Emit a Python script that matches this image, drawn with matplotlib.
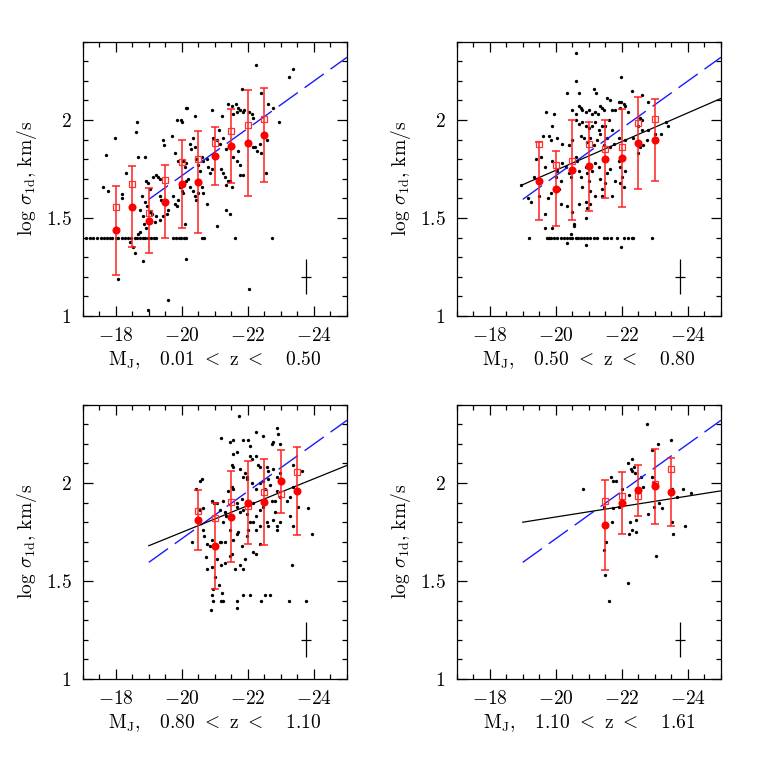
import matplotlib
matplotlib.use('Agg')
import matplotlib.pyplot as plt
from matplotlib.ticker import MultipleLocator, FuncFormatter

plt.rcParams['font.family'] = 'serif'
plt.rcParams['font.serif'] = ['cmr10']
plt.rcParams['mathtext.fontset'] = 'cm'
plt.rcParams['axes.formatter.use_mathtext'] = True

# redshift bins
z_lo = ['0.01', '0.50', '0.80', '1.10']
z_hi = ['0.50', '0.80', '1.10', '1.61']

# lower-limit row of galaxies
floor_y = 1.40

# ---- panel 1 : 0.01 < z < 0.50
floor_x1 = [-17.11, -17.21, -17.31, -17.43, -17.54, -17.64, -17.74, -17.82, -17.90,
            -18.00, -18.08, -18.18, -18.28, -18.38, -18.46, -18.57, -18.65, -18.73,
            -18.81, -18.89, -18.97, -19.07, -19.15, -19.23, -19.74, -19.82, -19.90,
            -19.98, -20.06, -20.14, -20.60, -20.67, -21.61, -22.74]
dot_x1 = [-17.60, -17.69, -17.98, -17.78, -18.06, -18.30, -18.18, -18.18, -18.65, -18.61,
          -18.67, -18.89, -18.44, -18.59, -18.51, -18.83, -18.98, -19.59, -20.14, -22.03,
          -21.07, -21.35, -21.45, -22.54, -21.76, -21.84, -20.12, -20.17, -19.96, -20.02,
          -19.84, -20.41, -20.91, -21.21, -21.39, -21.52, -21.64, -21.71, -21.76, -21.84,
          -21.88, -21.68, -21.56, -21.81, -22.26, -22.41, -22.62, -22.77, -22.94, -22.41,
          -22.28, -22.16, -22.21, -22.03, -22.11, -22.16, -22.36, -22.57, -23.25, -23.35,
          -19.43, -19.69, -19.45, -19.79, -19.89, -20.04, -20.09, -20.14, -20.24, -20.29,
          -20.34, -20.39, -20.44, -20.49, -20.55, -20.60, -20.65, -20.75, -20.80, -20.85,
          -20.90, -20.95, -21.05, -21.15, -21.13, -21.25, -21.35, -21.43, -21.56, -21.66,
          -21.71, -21.76, -21.20, -21.25, -21.30, -21.35, -21.40, -21.45, -21.51, -18.93,
          -18.98, -19.03, -18.78, -18.88, -18.95, -18.73, -18.81, -18.85, -18.91, -18.73,
          -18.68, -19.03, -19.11, -19.18, -19.23, -19.13, -19.23, -19.28, -19.33, -19.33,
          -19.38, -19.43, -19.48, -19.33, -19.43, -19.54, -19.59, -19.74, -19.79, -19.84,
          -19.89, -19.94, -19.99, -20.04, -20.09, -20.14, -20.19, -20.24, -20.34, -20.39,
          -20.44, -20.49, -20.55, -20.60, -20.65, -20.75]
dot_y1 = [1.66, 1.82, 1.91, 1.64, 1.19, 1.73, 1.62, 1.60, 1.99, 1.94,
          1.81, 1.81, 1.38, 1.32, 1.35, 1.28, 1.03, 1.08, 1.29, 1.14,
          1.46, 1.54, 1.52, 1.73, 1.72, 1.72, 2.06, 2.06, 2.00, 1.99,
          2.00, 2.02, 2.05, 2.02, 2.08, 2.07, 2.08, 2.06, 2.05, 2.04,
          2.05, 2.04, 2.03, 2.16, 2.28, 2.14, 2.08, 2.06, 1.99, 1.83,
          1.84, 1.86, 1.86, 2.04, 2.03, 2.01, 1.88, 1.90, 2.22, 2.26,
          1.90, 1.92, 1.87, 1.83, 1.79, 1.79, 1.76, 1.78, 1.88, 1.85,
          1.91, 1.86, 1.80, 1.77, 1.74, 1.81, 1.79, 1.80, 1.76, 1.73,
          1.75, 1.91, 1.90, 1.88, 1.95, 1.91, 1.85, 1.86, 1.81, 1.79,
          1.84, 1.77, 1.75, 1.73, 1.71, 1.67, 1.69, 1.69, 1.66, 1.69,
          1.68, 1.65, 1.61, 1.58, 1.56, 1.54, 1.51, 1.47, 1.45, 1.43,
          1.42, 1.53, 1.52, 1.48, 1.51, 1.71, 1.72, 1.71, 1.70, 1.61,
          1.59, 1.58, 1.57, 1.49, 1.51, 1.52, 1.54, 1.61, 1.57, 1.56,
          1.59, 1.66, 1.64, 1.63, 1.47, 1.69, 1.70, 1.66, 1.64, 1.61,
          1.59, 1.63, 1.68, 1.66, 1.63, 1.57]
bin_x1 = [-18.0, -18.5, -19.0, -19.5, -20.0, -20.5, -21.0, -21.5, -22.0, -22.5]
circ_y1 = [1.437, 1.558, 1.486, 1.583, 1.673, 1.684, 1.816, 1.866, 1.884, 1.925]
circ_e1 = [0.227, 0.205, 0.165, 0.185, 0.225, 0.260, 0.150, 0.190, 0.270, 0.240]
sq_y1 = [1.558, 1.673, 1.527, 1.694, 1.787, 1.801, 1.884, 1.942, 1.976, 2.003]

# ---- panel 2 : 0.50 < z < 0.80
floor_x2 = [-19.18, -19.72, -19.80, -19.86, -19.95, -20.05, -20.15, -20.25, -20.35,
            -20.42, -20.50, -20.60, -20.68, -20.76, -20.85, -20.95, -21.05, -21.15,
            -21.25, -21.45, -21.55, -21.68, -21.85, -22.05, -22.18, -22.30, -22.35, -22.90]
dot_x2 = [-20.34, -20.90, -21.96, -20.45, -20.54, -19.90, -19.66,
          -20.62, -20.62, -21.96, -22.30, -20.35, -20.70, -21.16, -21.22,
          -21.55, -21.65, -21.90, -21.98, -22.05, -22.62, -22.80,
          -19.70, -19.95, -20.50, -20.60, -20.70, -20.75, -20.80, -20.90, -21.00, -21.10,
          -21.20, -21.28, -21.35, -21.40, -21.45, -21.70, -21.80, -21.95, -22.10, -22.20,
          -19.60, -19.80, -19.90, -19.85, -20.05, -20.20, -20.40, -20.50,
          -20.60, -20.70, -20.80, -20.90, -21.00, -21.10, -21.20, -21.30, -21.40, -21.50,
          -21.60, -21.70,
          -20.75, -20.85, -20.95, -21.05, -21.15, -21.25, -21.35, -21.45, -21.55, -21.65,
          -21.75, -21.90,
          -22.10, -22.35, -22.50, -22.60, -22.65, -22.75, -22.80, -23.00, -23.18, -23.35,
          -23.40, -22.55, -22.62,
          -19.40, -19.55, -19.68, -19.90, -20.00, -20.05, -20.15, -20.20, -20.30, -20.40,
          -20.45,
          -20.60, -20.65, -20.70, -20.75, -20.80, -20.90, -20.95, -21.00, -21.05, -21.10,
          -21.20, -21.30, -21.35, -21.40, -21.50, -21.55, -21.65,
          -21.90, -21.95, -22.00, -22.05, -22.10, -21.95,
          -19.25, -19.35, -19.50, -19.68, -19.75, -19.85, -20.10, -20.15, -20.35, -20.48,
          -20.55, -20.70, -20.90, -20.95, -21.05, -20.90, -21.20, -21.40, -21.70, -21.80,
          -22.50, -22.55, -18.95, -19.15]
dot_y2 = [1.37, 1.36, 1.35, 1.42, 1.46, 1.45, 1.45,
          2.34, 2.20, 2.22, 2.15, 2.14, 2.14, 2.16, 2.14,
          2.11, 2.10, 2.09, 2.09, 2.08, 2.13, 2.09,
          2.04, 2.03, 2.05, 2.03, 2.07, 2.06, 2.05, 2.04, 2.05, 2.03,
          2.04, 2.03, 2.07, 2.06, 2.05, 2.05, 2.05, 2.06, 2.07, 2.04,
          1.92, 1.92, 1.97, 1.90, 1.91, 1.88, 1.87, 1.90,
          2.00, 1.98, 1.99, 1.97, 1.96, 1.97, 1.99, 1.95, 1.97, 1.97,
          2.00, 1.95,
          1.92, 1.91, 1.89, 1.91, 1.87, 1.90, 1.93, 1.87, 1.91, 1.86,
          1.88, 1.91,
          1.90, 1.91, 1.97, 1.95, 1.87, 1.90, 1.95, 1.93, 1.93, 1.99,
          1.97, 2.01, 2.00,
          1.80, 1.81, 1.76, 1.79, 1.71, 1.74, 1.69, 1.78, 1.76, 1.73,
          1.71,
          1.81, 1.79, 1.74, 1.71, 1.66, 1.76, 1.73, 1.69, 1.64, 1.74,
          1.78, 1.76, 1.70, 1.65, 1.68, 1.73, 1.75,
          1.79, 1.76, 1.71, 1.66, 1.74, 1.68,
          1.58, 1.71, 1.61, 1.52, 1.60, 1.63, 1.65, 1.57, 1.56, 1.53,
          1.47, 1.57, 1.58, 1.55, 1.57, 1.50, 1.61, 1.61, 1.61, 1.69,
          1.83, 1.86, 1.67, 1.60]
bin_x2 = [-19.5, -20.0, -20.5, -21.0, -21.5, -22.0, -22.5, -23.0]
circ_y2 = [1.689, 1.650, 1.745, 1.764, 1.801, 1.806, 1.881, 1.898]
circ_e2 = [0.199, 0.190, 0.254, 0.226, 0.200, 0.250, 0.234, 0.210]
sq_y2 = [1.878, 1.770, 1.791, 1.878, 1.852, 1.864, 1.986, 2.007]

# ---- panel 3 : 0.80 < z < 1.10
floor_x3 = [-20.95, -21.19, -21.25, -21.66, -22.41, -23.25, -23.76]
dot_x3 = [-20.90, -21.84, -22.06, -22.52, -22.67, -20.87, -21.66, -20.95, -21.00, -21.13,
          -21.23,
          -21.74, -22.26, -22.46, -22.89, -22.92, -21.20, -21.45, -21.56, -21.84, -22.01,
          -22.06, -22.77, -22.72, -22.97,
          -21.54, -21.66, -22.06, -22.11, -22.26, -22.31, -22.36, -22.57, -22.62, -22.77,
          -22.87, -22.97, -23.37, -23.63, -21.51, -21.56, -21.91, -21.96, -21.86, -21.76,
          -20.42, -20.55, -20.60, -20.90, -20.97, -21.25, -21.40, -21.51, -21.56, -21.66,
          -21.81, -21.96, -22.11, -22.26, -22.36, -22.46, -22.52, -22.62, -22.67, -22.72,
          -22.82, -22.87, -22.97, -23.17, -23.27, -23.37,
          -20.55, -20.65, -21.05, -21.15, -21.25, -21.30, -21.35, -21.66, -21.76, -21.86,
          -21.96, -22.06, -22.16, -22.26, -22.36, -22.46, -22.57, -22.77, -22.82, -22.87,
          -22.97, -23.27, -23.53, -23.83, -23.93,
          -20.32, -20.65, -20.68, -20.75, -20.85, -20.90, -21.15, -21.20, -21.30, -21.45,
          -21.56, -21.66, -21.71, -21.81, -21.96, -22.01, -22.16, -22.26, -22.36, -22.62,
          -22.87, -23.37,
          -20.73, -20.75, -20.90, -21.05, -21.20, -21.30, -21.45, -21.51, -21.61, -21.76,
          -21.84, -21.91, -22.16, -22.26, -22.36, -23.32]
dot_y3 = [1.43, 1.43, 1.43, 1.43, 1.43, 1.35, 1.36, 1.46, 1.52, 1.48,
          1.44,
          2.34, 2.26, 2.24, 2.28, 2.25, 2.23, 2.21, 2.22, 2.22, 2.22,
          2.19, 2.21, 2.20, 2.20,
          2.15, 2.16, 2.14, 2.12, 2.14, 2.09, 2.08, 2.08, 2.06, 2.07,
          2.03, 2.05, 2.09, 2.06, 2.09, 2.08, 2.05, 2.03, 2.03, 2.07,
          1.97, 2.01, 2.02, 1.91, 1.90, 1.91, 1.96, 1.98, 1.97, 1.90,
          1.92, 2.02, 2.00, 1.97, 2.00, 2.01, 1.97, 2.02, 1.99, 1.91,
          1.91, 1.96, 1.93, 1.91, 1.93, 1.98,
          1.86, 1.87, 1.90, 1.86, 1.80, 1.85, 1.83, 1.88, 1.85, 1.86,
          1.84, 1.80, 1.90, 1.83, 1.86, 1.88, 1.80, 1.81, 1.85, 1.78,
          1.80, 1.83, 1.88, 1.87, 1.74,
          1.70, 1.76, 1.73, 1.69, 1.68, 1.71, 1.70, 1.70, 1.70, 1.76,
          1.71, 1.74, 1.75, 1.68, 1.73, 1.76, 1.80, 1.76, 1.78, 1.78,
          1.76, 1.78,
          1.62, 1.56, 1.57, 1.61, 1.58, 1.59, 1.63, 1.64, 1.56, 1.58,
          1.56, 1.61, 1.65, 1.64, 1.69, 1.58]
bin_x3 = [-20.5, -21.0, -21.5, -22.0, -22.5, -23.0, -23.5]
circ_y3 = [1.811, 1.677, 1.828, 1.900, 1.902, 2.008, 1.961]
circ_e3 = [0.153, 0.220, 0.232, 0.213, 0.219, 0.160, 0.224]
sq_y3 = [1.855, 1.821, 1.902, 1.884, 1.956, 1.944, 2.056]

# ---- panel 4 : 1.10 < z < 1.61
floor_x4 = [-21.60]
dot_x4 = [-22.77, -23.10, -23.48, -22.90, -22.19, -22.30, -22.27, -22.37, -22.32, -22.40,
          -22.57, -22.65, -22.92, -22.97, -23.03, -21.67, -21.72, -21.82, -20.81, -22.00,
          -21.47, -21.72, -21.92, -22.22, -22.42, -22.80, -22.97, -23.13, -23.20, -23.53,
          -23.86, -24.08, -23.68, -21.69, -22.25, -22.22, -22.32, -22.42, -23.53, -23.55,
          -23.90, -23.02, -21.52, -21.49, -22.20, -21.45]
dot_y4 = [2.30, 2.20, 2.22, 2.17, 2.10, 2.12, 2.07, 2.08, 2.06, 2.05,
          2.03, 1.98, 2.03, 2.00, 1.99, 2.03, 2.01, 2.01, 1.97, 1.97,
          1.88, 1.87, 1.88, 1.94, 1.81, 1.84, 1.88, 1.90, 1.87, 1.97,
          1.97, 1.95, 1.93, 1.80, 1.80, 1.74, 1.76, 1.75, 1.80, 1.74,
          1.78, 1.63, 1.70, 1.53, 1.49, 1.66]
bin_x4 = [-21.5, -22.0, -22.5, -23.0, -23.5]
circ_y4 = [1.786, 1.898, 1.963, 1.983, 1.954]
circ_e4 = [0.229, 0.160, 0.130, 0.190, 0.173]
sq_y4 = [1.910, 1.932, 1.935, 1.993, 2.071]

# fitted relations: blue = same in every panel, black = per-bin fit (none in bin 1)
fit_x = [-19.0, -25.0]
blue_y = [1.595, 2.32]
black_y = [None, [1.67, 2.11], [1.68, 2.09], [1.80, 1.96]]

# typical individual error
err_x, err_y, err_dx, err_dy = -23.75, 1.20, 0.15, 0.09

panels = [
    (floor_x1, dot_x1, dot_y1, bin_x1, circ_y1, circ_e1, sq_y1),
    (floor_x2, dot_x2, dot_y2, bin_x2, circ_y2, circ_e2, sq_y2),
    (floor_x3, dot_x3, dot_y3, bin_x3, circ_y3, circ_e3, sq_y3),
    (floor_x4, dot_x4, dot_y4, bin_x4, circ_y4, circ_e4, sq_y4),
]
boxes = [[0.1087, 0.5848, 0.3473, 0.3605], [0.6001, 0.5848, 0.3473, 0.3605],
         [0.1087, 0.1078, 0.3473, 0.3605], [0.6001, 0.1078, 0.3473, 0.3605]]

fig = plt.figure(figsize=(7.61, 7.61), dpi=100)
fmt = FuncFormatter(lambda v, p: '$%g$' % v)

for i, (fx, dx, dy, bx, cy, ce, sy) in enumerate(panels):
    ax = fig.add_axes(boxes[i])
    ax.plot(fx, [floor_y] * len(fx), 'o', color='k', ms=2.4, mew=0)
    ax.plot(dx, dy, 'o', color='k', ms=2.4, mew=0)

    ax.plot(fit_x, blue_y, color='#1a1aff', lw=1.0, dashes=(17, 6))
    if black_y[i] is not None:
        ax.plot(fit_x, black_y[i], color='k', lw=0.9)

    ax.errorbar(bx, cy, yerr=ce, fmt='none', ecolor='#ff2020', elinewidth=1.1,
                capsize=3, capthick=1.1)
    ax.plot(bx, sy, 's', mfc='none', mec='#ff3030', ms=4.5, mew=0.9)
    ax.plot(bx, cy, 'o', color='#ff0000', ms=5.8, mew=0)

    ax.errorbar([err_x], [err_y], xerr=err_dx, yerr=err_dy, fmt='none',
                ecolor='k', elinewidth=0.9)

    ax.set_xlim(-17, -25)
    ax.set_ylim(1.0, 2.4)
    ax.xaxis.set_major_locator(MultipleLocator(2))
    ax.xaxis.set_minor_locator(MultipleLocator(0.5))
    ax.yaxis.set_major_locator(MultipleLocator(0.5))
    ax.yaxis.set_minor_locator(MultipleLocator(0.1))
    ax.xaxis.set_major_formatter(fmt)
    ax.yaxis.set_major_formatter(fmt)
    ax.tick_params(which='both', direction='in', top=True, right=True,
                   labelsize=14, pad=8, width=0.9)
    ax.tick_params(which='major', length=7)
    ax.tick_params(which='minor', length=3.5)
    for s in ax.spines.values():
        s.set_linewidth(0.9)

    ax.set_xlabel(r'M$_{\rm J}$,   ' + z_lo[i] + r' $<$ z $<$   ' + z_hi[i],
                  fontsize=14, labelpad=3)
    ax.set_ylabel(r'log $\sigma_{\rm 1d}$, km/s', fontsize=14, labelpad=5)

fig.savefig('out.png', dpi=100)
